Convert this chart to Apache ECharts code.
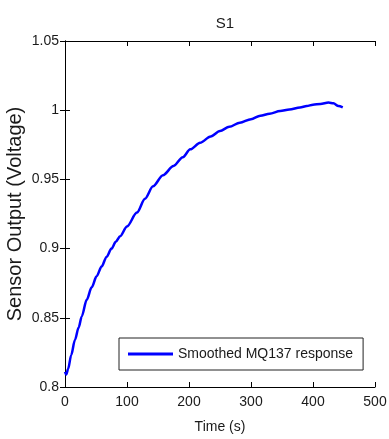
<!DOCTYPE html>
<html>
<head>
<meta charset="utf-8">
<script src="https://cdn.jsdelivr.net/npm/echarts@6/dist/echarts.min.js"></script>
<style>
html,body{margin:0;padding:0;background:#fff;}
#chart{width:389px;height:439px;}
</style>
</head>
<body>
<div id="chart"></div>
<script>
// Data
var timeSeconds = [0, 2, 5, 10, 16, 22, 27, 35, 43, 51, 59, 67, 75, 82, 89, 100, 116, 129, 142, 158, 175, 190, 202, 218, 235, 250, 265, 282, 300, 315, 330, 347, 362, 379, 390, 400, 412, 425, 433, 441, 448];
var sensorVoltage = [0.811, 0.809, 0.813, 0.823, 0.834, 0.843, 0.851, 0.863, 0.872, 0.880, 0.887, 0.894, 0.900, 0.905, 0.909, 0.916, 0.926, 0.936, 0.945, 0.953, 0.9597, 0.966, 0.9717, 0.9765, 0.981, 0.985, 0.988, 0.991, 0.9935, 0.996, 0.9975, 0.9994, 1.0005, 1.002, 1.003, 1.004, 1.0045, 1.0055, 1.005, 1.003, 1.002];
var seriesName = 'Smoothed MQ137 response';
var titleText = 'S1';
var xAxisName = 'Time (s)';
var yAxisName = 'Sensor Output (Voltage)';

var points = timeSeconds.map(function (t, i) { return [t, sensorVoltage[i]]; });
var font = 'Liberation Sans, Arial, sans-serif';
var textColor = '#1a1a1a';

var chart = echarts.init(document.getElementById('chart'));
chart.setOption({
  animation: false,
  backgroundColor: '#fff',
  title: {
    text: titleText,
    left: 220,
    top: 11,
    textAlign: 'center',
    textStyle: { fontFamily: font, fontSize: 15, fontWeight: 'normal', color: textColor }
  },
  grid: { left: 65, right: 14, top: 41, bottom: 52, containLabel: false, outerBoundsMode: 'none' },
  legend: {
    left: 119,
    top: 338,
    orient: 'horizontal',
    icon: 'rect',
    itemWidth: 45,
    itemHeight: 3,
    padding: [9, 10, 9, 9],
    borderColor: '#222',
    borderWidth: 1,
    backgroundColor: '#fff',
    textStyle: { fontFamily: font, fontSize: 14, color: textColor },
    data: [seriesName]
  },
  xAxis: [{
    type: 'value',
    min: 0, max: 500, interval: 100,
    name: xAxisName,
    nameLocation: 'middle',
    nameGap: 33,
    nameMoveOverlap: false,
    nameTextStyle: { fontFamily: font, fontSize: 14, color: textColor },
    axisLine: { show: true, lineStyle: { color: '#000', width: 1 } },
    axisTick: { show: true, inside: true, length: 5, lineStyle: { color: '#000' } },
    axisLabel: { fontFamily: font, fontSize: 14, color: textColor, margin: 8 },
    splitLine: { show: false }
  }, {
    type: 'value', position: 'top',
    min: 0, max: 500, interval: 100,
    axisLine: { show: true, lineStyle: { color: '#000', width: 1 } },
    axisTick: { show: true, inside: true, length: 5, lineStyle: { color: '#000' } },
    axisLabel: { show: false },
    splitLine: { show: false }
  }],
  yAxis: [{
    type: 'value',
    min: 0.8, max: 1.05, interval: 0.05,
    name: yAxisName,
    nameLocation: 'middle',
    nameGap: 40,
    nameMoveOverlap: false,
    nameTextStyle: { fontFamily: font, fontSize: 20, color: textColor },
    axisLine: { show: true, lineStyle: { color: '#000', width: 1 } },
    axisTick: { show: true, inside: true, length: 5, lineStyle: { color: '#000' } },
    axisLabel: {
      fontFamily: font, fontSize: 14, color: textColor, margin: 6,
      formatter: function (v) { return String(parseFloat(v.toFixed(2))); }
    },
    splitLine: { show: false }
  }, {
    type: 'value', position: 'right',
    min: 0.8, max: 1.05, interval: 0.05,
    axisLine: { show: true, lineStyle: { color: '#000', width: 1 } },
    axisTick: { show: true, inside: true, length: 5, lineStyle: { color: '#000' } },
    axisLabel: { show: false },
    splitLine: { show: false }
  }],
  series: [{
    name: seriesName,
    type: 'line',
    xAxisIndex: 0,
    yAxisIndex: 0,
    data: points,
    showSymbol: false,
    symbol: 'none',
    smooth: 0.3,
    smoothMonotone: 'x',
    lineStyle: { color: '#0000ff', width: 2.5 },
    itemStyle: { color: '#0000ff' }
  }]
});
</script>
</body>
</html>
